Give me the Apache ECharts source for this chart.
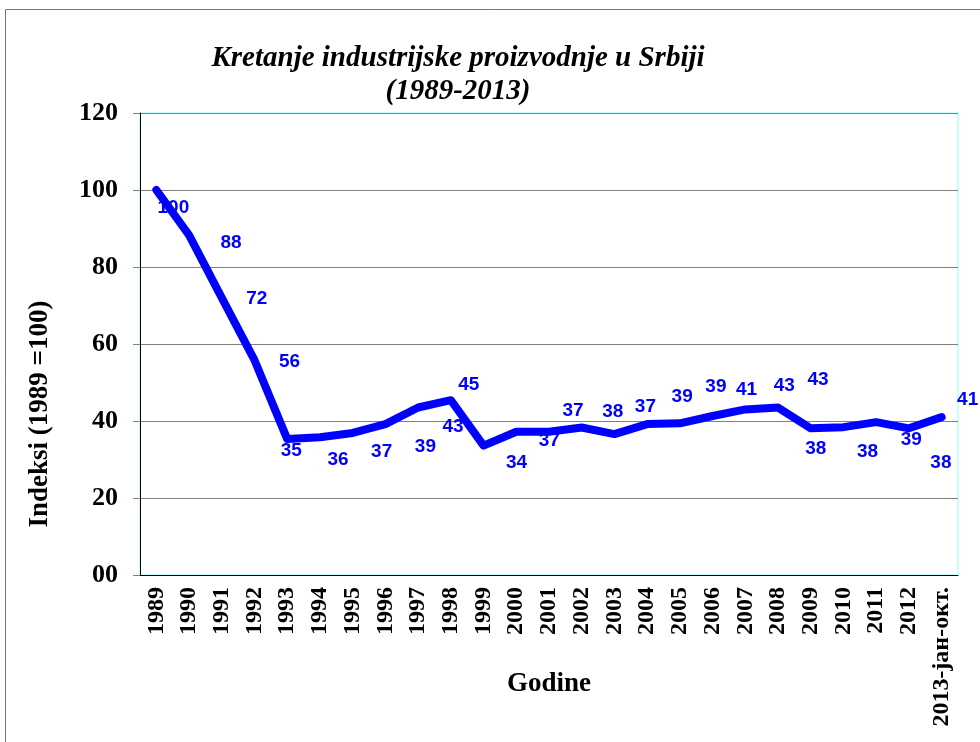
<!DOCTYPE html>
<html>
<head>
<meta charset="utf-8">
<script src="https://cdn.jsdelivr.net/npm/echarts@6/dist/echarts.min.js"></script>
<style>
  html, body { margin: 0; padding: 0; background: #fff; }
  #chart { width: 980px; height: 742px; }
</style>
</head>
<body>
<div id="chart"></div>
<script>
var years = ['1989', '1990', '1991', '1992', '1993', '1994', '1995', '1996', '1997', '1998',
    '1999', '2000', '2001', '2002', '2003', '2004', '2005', '2006', '2007', '2008',
    '2009', '2010', '2011', '2012', '2013-јан-окт.'];

// index values
var indexValues = [100, 88.3, 72, 55.8, 35.3, 35.8, 36.9, 39.2, 43.5, 45.4,
    33.6, 37.2, 37.2, 38.3, 36.6, 39.2, 39.4, 41.3, 43.0, 43.5,
    38.1, 38.4, 39.7, 38.1, 41.0];

// numbers printed next to the points
var labelTexts = ['100', '88', '72', '56', '35', '36', '37', '39', '43', '45',
    '34', '37', '37', '38', '37', '39', '39', '41', '43', '43',
    '38', '38', '39', '38', '41'];

var yTicks = [0, 20, 40, 60, 80, 100, 120];

// where each label sits relative to its point (as in the original)
var labelOffsets = [[17, 18], [42, 8], [35, 1], [35, 2], [4, 12], [18, 23], [29, 19], [40, 23], [35, 19], [18, -15],
    [33, 17], [33, 9], [24, -21], [31, -16], [31, -27], [35, -27], [36, -37], [34, -26], [39, -24], [40, -28],
    [5, 20], [24, 25], [35, 18], [32, 34], [26, -17]];

var serif = '"Liberation Serif", "Times New Roman", serif';

var seriesData = indexValues.map(function (v, i) {
    return {
        value: v,
        label: { offset: labelOffsets[i], formatter: labelTexts[i] }
    };
});

var myChart = echarts.init(document.getElementById('chart'));

option = {
    animation: false,
    backgroundColor: '#fff',
    title: {
        text: 'Kretanje industrijske proizvodnje u Srbiji\n(1989-2013)',
        left: 453,
        top: 37,
        textAlign: 'center',
        textStyle: {
            fontFamily: serif,
            fontSize: 29,
            fontWeight: 'bold',
            fontStyle: 'italic',
            color: '#000',
            lineHeight: 33
        }
    },
    graphic: [{
        type: 'rect',
        shape: { x: 5.5, y: 9.5, width: 1000, height: 800 },
        style: { fill: 'none', stroke: '#777', lineWidth: 1 },
        z: -1
    }],
    grid: {
        left: 140,
        right: 22,
        top: 113,
        bottom: 167,
        show: true,
        containLabel: false,
        outerBoundsMode: 'none',
        borderColor: '#c6ffff',
        borderWidth: 2
    },
    xAxis: {
        type: 'category',
        data: years,
        boundaryGap: true,
        name: 'Godine',
        nameLocation: 'middle',
        nameGap: 96,
        nameMoveOverlap: false,
        nameTextStyle: { fontFamily: serif, fontSize: 27, fontWeight: 'bold', color: '#000' },
        axisLine: { lineStyle: { color: '#000', width: 1 } },
        axisTick: { interval: 0, length: 6, lineStyle: { color: '#808080' } },
        axisLabel: {
            interval: 0,
            rotate: 90,
            margin: 12,
            fontFamily: serif,
            fontSize: 24,
            fontWeight: 'bold',
            color: '#000'
        },
        splitLine: { show: false }
    },
    yAxis: {
        type: 'value',
        min: yTicks[0],
        max: yTicks[yTicks.length - 1],
        interval: 20,
        name: 'Indeksi (1989 =100)',
        nameLocation: 'middle',
        nameGap: 86,
        nameMoveOverlap: false,
        nameTextStyle: {
            fontFamily: serif, fontSize: 27, fontWeight: 'bold', color: '#000',
            padding: [0, 140, 0, 0]
        },
        axisLine: { show: true, lineStyle: { color: '#000', width: 1 } },
        axisTick: { show: true, length: 7, lineStyle: { color: '#808080' } },
        axisLabel: {
            margin: 22,
            fontFamily: serif,
            fontSize: 26,
            fontWeight: 'bold',
            color: '#000',
            formatter: function (v) { return v === 0 ? '00' : String(v); }
        },
        splitLine: { show: true, lineStyle: { color: '#808080', width: 1 } }
    },
    series: [{
        type: 'line',
        data: seriesData,
        symbol: 'circle',
        symbolSize: 1,
        showSymbol: true,
        itemStyle: { color: 'rgba(0,0,255,0)' },
        lineStyle: { color: '#0000ff', width: 8, cap: 'round', join: 'round' },
        label: {
            show: true,
            position: 'inside',
            color: '#0000ff',
            fontFamily: '"Liberation Sans", Arial, sans-serif',
            fontSize: 19,
            fontWeight: 'bold'
        },
        z: 3
    }]
};

myChart.setOption(option);
</script>
</body>
</html>
